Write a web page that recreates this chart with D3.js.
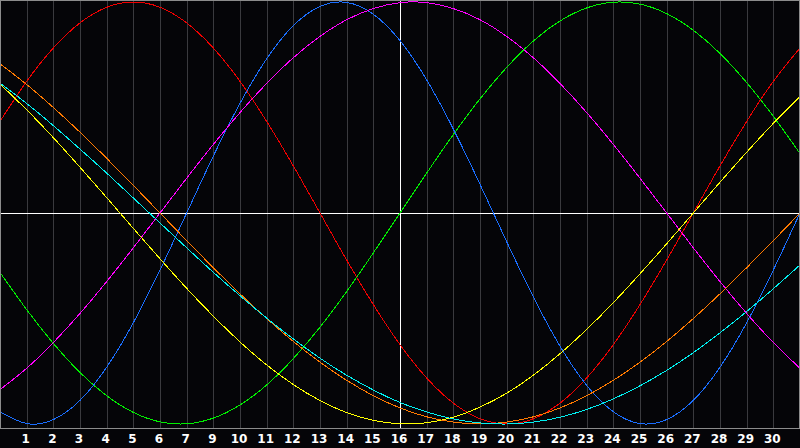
<!DOCTYPE html>
<html lang="en">

<head>
    <meta charset="UTF-8">
    <title>Biorhythm</title>
    <script src="https://cdn.jsdelivr.net/npm/d3@7"></script>
    <style>
        html, body { margin: 0; padding: 0; background: #050508; }
        svg { display: block; }
    </style>
</head>

<body>
    <svg></svg>
</body>
<script>
    const width = 800;
    const height = 448;
    const plotBottom = 428; // bottom edge of the chart frame

    // day slots along the x axis (grid line index 0..30)
    const days = d3.range(0, 31);

    // tick labels as printed under the grid lines 1..29 (the "8" is not printed)
    const tickLabels = ['1', '2', '3', '4', '5', '6', '7', '9', '10', '11', '12', '13', '14', '15', '16',
        '17', '18', '19', '20', '21', '22', '23', '24', '25', '26', '27', '28', '29', '30'];

    // values, one per grid line, -1..1
    const red = [0.434, 0.624, 0.782, 0.901, 0.975, 1.000, 0.975, 0.901, 0.782, 0.624, 0.434, 0.223, 0.000,
        -0.223, -0.434, -0.624, -0.782, -0.901, -0.975, -1.000, -0.975, -0.901, -0.782, -0.624, -0.434,
        -0.223, 0.000, 0.223, 0.434, 0.624, 0.782];
    const green = [-0.282, -0.458, -0.618, -0.756, -0.866, -0.945, -0.990, -0.999, -0.972, -0.910, -0.815,
        -0.690, -0.541, -0.372, -0.189, 0.000, 0.189, 0.372, 0.541, 0.690, 0.815, 0.910, 0.972, 0.999,
        0.990, 0.945, 0.866, 0.756, 0.618, 0.458, 0.282];
    const blue = [-0.942, -0.998, -0.979, -0.888, -0.731, -0.520, -0.270, 0.000, 0.270, 0.520, 0.731, 0.888,
        0.979, 0.998, 0.942, 0.817, 0.631, 0.398, 0.136, -0.136, -0.398, -0.631, -0.817, -0.942, -0.998,
        -0.979, -0.888, -0.731, -0.520, -0.270, 0.000];
    const magenta = [-0.837, -0.736, -0.614, -0.476, -0.325, -0.165, 0.000, 0.165, 0.325, 0.476, 0.614,
        0.736, 0.837, 0.916, 0.969, 0.997, 0.997, 0.969, 0.916, 0.837, 0.736, 0.614, 0.476, 0.325, 0.165,
        0.000, -0.165, -0.325, -0.476, -0.614, -0.736];
    const yellow = [0.611, 0.489, 0.357, 0.217, 0.073, -0.073, -0.217, -0.357, -0.489, -0.611, -0.720,
        -0.813, -0.889, -0.946, -0.983, -0.999, -0.994, -0.968, -0.920, -0.854, -0.769, -0.667, -0.552,
        -0.425, -0.288, -0.146, 0.000, 0.146, 0.288, 0.425, 0.552];
    const orange = [0.707, 0.609, 0.500, 0.383, 0.259, 0.131, 0.000, -0.131, -0.259, -0.383, -0.500, -0.609,
        -0.707, -0.793, -0.866, -0.924, -0.966, -0.991, -1.000, -0.991, -0.966, -0.924, -0.866, -0.793,
        -0.707, -0.609, -0.500, -0.383, -0.259, -0.131, 0.000];
    const cyan = [0.616, 0.519, 0.414, 0.303, 0.189, 0.071, -0.047, -0.165, -0.281, -0.392, -0.498, -0.597,
        -0.688, -0.769, -0.839, -0.898, -0.943, -0.976, -0.995, -1.000, -0.991, -0.968, -0.931, -0.881,
        -0.819, -0.746, -0.662, -0.568, -0.467, -0.359, -0.246];

    const series = [
        { color: '#f00000', values: red },
        { color: '#00ee00', values: green },
        { color: '#1a6eff', values: blue },
        { color: '#ff00ff', values: magenta },
        { color: '#ffff00', values: yellow },
        { color: '#ff7a00', values: orange },
        { color: '#00f0f0', values: cyan }
    ];

    const svg = d3.select('svg')
        .attr('width', width)
        .attr('height', height)
        .style('background', '#050508');

    const x = d3.scaleLinear().domain([0, 30]).range([0, width]);
    const y = d3.scaleLinear().domain([-1, 1]).range([424, 2]);

    // day grid
    svg.append('g')
        .selectAll('line')
        .data(days.slice(1, 30))
        .join('line')
        .attr('x1', d => Math.round(x(d)) + 0.5)
        .attr('x2', d => Math.round(x(d)) + 0.5)
        .attr('y1', 0)
        .attr('y2', plotBottom)
        .attr('stroke', d => d === 15 ? '#ffffff' : '#3a3a3e')
        .attr('stroke-width', 1);

    // zero line
    svg.append('line')
        .attr('x1', 0)
        .attr('x2', width)
        .attr('y1', Math.round(y(0)) + 0.5)
        .attr('y2', Math.round(y(0)) + 0.5)
        .attr('stroke', '#ffffff');

    // curves
    const line = d3.line()
        .x((d, i) => x(days[i]))
        .y(d => y(d))
        .curve(d3.curveNatural);

    svg.append('g')
        .selectAll('path')
        .data(series)
        .join('path')
        .attr('d', d => line(d.values))
        .attr('fill', 'none')
        .attr('stroke', d => d.color)
        .attr('stroke-width', 1)
        .attr('shape-rendering', 'crispEdges');

    // frame
    svg.append('rect')
        .attr('x', 0.5)
        .attr('y', 0.5)
        .attr('width', width - 1)
        .attr('height', plotBottom)
        .attr('fill', 'none')
        .attr('stroke', '#8c8c8c');

    // day labels
    svg.append('g')
        .selectAll('text')
        .data(tickLabels)
        .join('text')
        .attr('x', (d, i) => x(i + 1) - 1)
        .attr('y', 443)
        .attr('text-anchor', 'middle')
        .attr('fill', '#ffffff')
        .style('font-family', 'DejaVu Sans, sans-serif')
        .style('font-weight', 'bold')
        .style('font-size', '12px')
        .text(d => d);
</script>

</html>
